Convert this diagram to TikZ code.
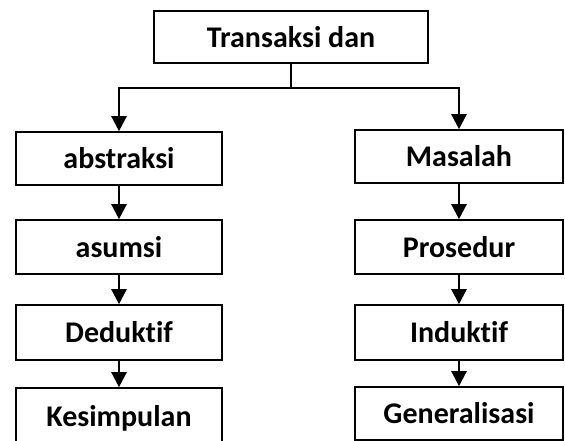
\documentclass[tikz,border=0pt]{standalone}
\usepackage{fontspec}
\setmainfont{Carlito}[Ligatures=NoCommon]
\usetikzlibrary{arrows.meta}
\tikzset{
  box/.style={draw=black, line width=1.6pt, fill=white, font=\fontsize{30}{35}\selectfont\bfseries, inner sep=0pt},
  lbox/.style={box, minimum width=206pt},
  rbox/.style={box, minimum width=208pt},
  arr/.style={line width=2.4pt, -{Triangle[length=15pt,width=15pt]}}
}
\begin{document}
\begin{tikzpicture}[x=1pt,y=-1pt]
\useasboundingbox (0,0) rectangle (565,441);
\clip (0,0) rectangle (565,441);
\node[box, minimum width=274pt, minimum height=52pt] (top) at (291,37) {Transaksi dan};
\node[lbox, minimum height=53pt] (l1) at (119,158.5) {abstraksi};
\node[lbox, minimum height=54pt] (l2) at (119,247) {asumsi};
\node[lbox, minimum height=55pt] (l3) at (119,332.5) {Deduktif};
\node[lbox, minimum height=60pt] (l4) at (119,418) {Kesimpulan};
\node[rbox, minimum height=53pt] (r1) at (459,156.5) {Masalah};
\node[rbox, minimum height=54pt] (r2) at (459,247) {Prosedur};
\node[rbox, minimum height=55pt] (r3) at (459,332.5) {Induktif};
\node[rbox, minimum height=53pt] (r4) at (459,413.5) {Generalisasi};
\coordinate (j) at (291,88);
\draw[line width=1.6pt] (top.south) -- (j);
\draw[arr] (j) -| (l1.north);
\draw[arr] (j) -| (r1.north);
\draw[arr] (l1.south) -- (l2.north);
\draw[arr] (l2.south) -- (l3.north);
\draw[arr] (l3.south) -- (l4.north);
\draw[arr] (r1.south) -- (r2.north);
\draw[arr] (r2.south) -- (r3.north);
\draw[arr] (r3.south) -- (r4.north);
\end{tikzpicture}
\end{document}
